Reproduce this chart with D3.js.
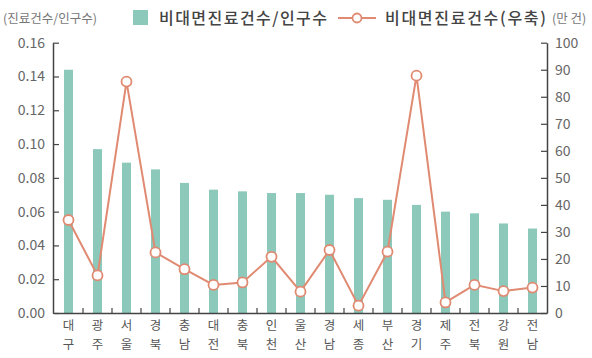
<!DOCTYPE html>
<html><head><meta charset="utf-8">
<script src="https://cdn.jsdelivr.net/npm/d3@7"></script>
<style>body{margin:0;background:#fff}svg{display:block}text{font-family:"Noto Sans CJK KR","Noto Sans",sans-serif}</style>
</head><body>
<svg id="c" width="592" height="358"></svg>
<script>
const categories = ["대구","광주","서울","경북","충남","대전","충북","인천","울산","경남","세종","부산","경기","제주","전북","강원","전남"];
const ratioValues = [0.144,0.097,0.089,0.085,0.077,0.073,0.072,0.071,0.071,0.070,0.068,0.067,0.064,0.060,0.059,0.053,0.050];
const countValues = [34.4,13.9,85.6,22.4,16.2,10.4,11.3,20.8,7.9,23.3,2.7,22.7,87.8,3.9,10.4,8.1,9.4];
const leftTicks = [0,0.02,0.04,0.06,0.08,0.10,0.12,0.14,0.16];
const rightTicks = [0,10,20,30,40,50,60,70,80,90,100];

const svg = d3.select("#c");
const L = 53, R = 547, T = 42.7, B = 313;
const barColor = "#8cc9bb", lineColor = "#e08a72", axisColor = "#444", textColor = "#666";

const x = d3.scaleBand().domain(categories).range([L+1, R]).paddingInner(0).paddingOuter(0);
const yL = d3.scaleLinear().domain([0,0.16]).range([B,T]);
const yR = d3.scaleLinear().domain([0,100]).range([B,T]);

// bars
const bw = 9;
svg.append("g").selectAll("rect").data(categories).join("rect")
  .attr("x", d => x(d) + x.bandwidth()/2 - bw/2)
  .attr("width", bw)
  .attr("y", (d,i) => yL(ratioValues[i]))
  .attr("height", (d,i) => B - yL(ratioValues[i]))
  .attr("fill", barColor);

// left axis
const gL = svg.append("g").attr("transform", `translate(${L},0)`)
  .call(d3.axisLeft(yL).tickValues(leftTicks).tickFormat(d3.format(".2f")).tickSizeInner(-6).tickSizeOuter(0).tickPadding(8));
// right axis
const gR = svg.append("g").attr("transform", `translate(${R},0)`)
  .call(d3.axisRight(yR).tickValues(rightTicks).tickSizeInner(-6).tickSizeOuter(0).tickPadding(8));
// bottom axis
const gB = svg.append("g").attr("transform", `translate(0,${B})`)
  .call(d3.axisBottom(x).tickSize(0).tickFormat(""));
[gL,gR,gB].forEach(g => {
  g.select(".domain").attr("stroke", axisColor).attr("stroke-width", 1.5);
  g.selectAll(".tick line").attr("stroke", axisColor).attr("stroke-width", 1.2);
  g.selectAll(".tick text").attr("fill", textColor).attr("font-size", 14).attr("font-family", "'Liberation Sans','DejaVu Sans',sans-serif");
});
// x boundary ticks
svg.append("g").selectAll("line").data(categories.slice(1)).join("line")
  .attr("x1", d => x(d)).attr("x2", d => x(d))
  .attr("y1", B).attr("y2", B-5)
  .attr("stroke", axisColor).attr("stroke-width", 1.2);

// x labels stacked vertically
const xl = svg.append("g").selectAll("g").data(categories).join("g")
  .attr("transform", d => `translate(${x(d)+x.bandwidth()/2},0)`);
xl.append("text").attr("y", 330).attr("text-anchor","middle").attr("font-size",12.5).attr("fill","#555").text(d => d[0]);
xl.append("text").attr("y", 348.5).attr("text-anchor","middle").attr("font-size",12.5).attr("fill","#555").text(d => d[1]);

// line
const line = d3.line().x((d,i) => x(categories[i]) + x.bandwidth()/2).y(d => yR(d));
svg.append("path").datum(countValues).attr("d", line).attr("fill","none").attr("stroke", lineColor).attr("stroke-width", 2);
svg.append("g").selectAll("circle").data(countValues).join("circle")
  .attr("cx", (d,i) => x(categories[i]) + x.bandwidth()/2)
  .attr("cy", d => yR(d)).attr("r", 5)
  .attr("fill", "#fff").attr("stroke", lineColor).attr("stroke-width", 1.8);

// legend
const lg = svg.append("g");
lg.append("text").attr("x", 3).attr("y", 23).attr("font-size", 12.5).attr("fill", "#777").text("(진료건수/인구수)");
lg.append("rect").attr("x", 133).attr("y", 10).attr("width", 15).attr("height", 15).attr("fill", barColor);
lg.append("text").attr("x", 159).attr("y", 24).attr("font-size", 16).attr("font-weight", 500).attr("fill", "#444")
  .attr("textLength", 168).attr("lengthAdjust", "spacing").text("비대면진료건수/인구수");
lg.append("line").attr("x1", 338).attr("x2", 376).attr("y1", 18).attr("y2", 18).attr("stroke", lineColor).attr("stroke-width", 2);
lg.append("circle").attr("cx", 357).attr("cy", 18).attr("r", 4.5).attr("fill", "#fff").attr("stroke", lineColor).attr("stroke-width", 1.8);
lg.append("text").attr("x", 385).attr("y", 24).attr("font-size", 16).attr("font-weight", 500).attr("fill", "#444")
  .attr("textLength", 161).attr("lengthAdjust", "spacing").text("비대면진료건수(우축)");
lg.append("text").attr("x", 552).attr("y", 23).attr("font-size", 12.5).attr("fill", "#777").text("(만 건)");
</script>
</body></html>
